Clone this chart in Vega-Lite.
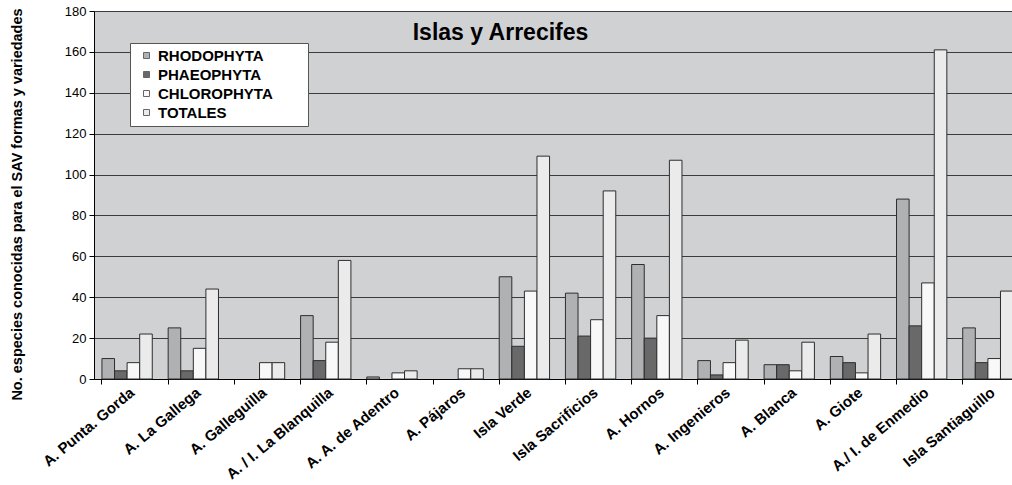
{
  "$schema": "https://vega.github.io/schema/vega-lite/v6.json",
  "width": 927,
  "height": 368,
  "autosize": "none",
  "padding": {"left": 94, "top": 11, "right": 0, "bottom": 106},
  "background": "white",
  "title": {"text": "Islas y Arrecifes", "font": "Liberation Sans", "fontSize": 23, "fontWeight": "bold", "color": "black", "anchor": "middle", "dx": -57, "dy": 44},
  "config": {"view": {"fill": "#D0D1D3", "stroke": "#8a8a8a"}, "font": "Liberation Sans"},
  "data": {"values": [
    {"site": "A. Punta. Gorda", "group": "RHODOPHYTA", "value": 10},
    {"site": "A. Punta. Gorda", "group": "PHAEOPHYTA", "value": 4},
    {"site": "A. Punta. Gorda", "group": "CHLOROPHYTA", "value": 8},
    {"site": "A. Punta. Gorda", "group": "TOTALES", "value": 22},
    {"site": "A. La Gallega", "group": "RHODOPHYTA", "value": 25},
    {"site": "A. La Gallega", "group": "PHAEOPHYTA", "value": 4},
    {"site": "A. La Gallega", "group": "CHLOROPHYTA", "value": 15},
    {"site": "A. La Gallega", "group": "TOTALES", "value": 44},
    {"site": "A. Galleguilla", "group": "CHLOROPHYTA", "value": 8},
    {"site": "A. Galleguilla", "group": "TOTALES", "value": 8},
    {"site": "A. / I. La Blanquilla", "group": "RHODOPHYTA", "value": 31},
    {"site": "A. / I. La Blanquilla", "group": "PHAEOPHYTA", "value": 9},
    {"site": "A. / I. La Blanquilla", "group": "CHLOROPHYTA", "value": 18},
    {"site": "A. / I. La Blanquilla", "group": "TOTALES", "value": 58},
    {"site": "A. A. de Adentro", "group": "RHODOPHYTA", "value": 1},
    {"site": "A. A. de Adentro", "group": "CHLOROPHYTA", "value": 3},
    {"site": "A. A. de Adentro", "group": "TOTALES", "value": 4},
    {"site": "A. Pájaros", "group": "CHLOROPHYTA", "value": 5},
    {"site": "A. Pájaros", "group": "TOTALES", "value": 5},
    {"site": "Isla Verde", "group": "RHODOPHYTA", "value": 50},
    {"site": "Isla Verde", "group": "PHAEOPHYTA", "value": 16},
    {"site": "Isla Verde", "group": "CHLOROPHYTA", "value": 43},
    {"site": "Isla Verde", "group": "TOTALES", "value": 109},
    {"site": "Isla Sacrificios", "group": "RHODOPHYTA", "value": 42},
    {"site": "Isla Sacrificios", "group": "PHAEOPHYTA", "value": 21},
    {"site": "Isla Sacrificios", "group": "CHLOROPHYTA", "value": 29},
    {"site": "Isla Sacrificios", "group": "TOTALES", "value": 92},
    {"site": "A. Hornos", "group": "RHODOPHYTA", "value": 56},
    {"site": "A. Hornos", "group": "PHAEOPHYTA", "value": 20},
    {"site": "A. Hornos", "group": "CHLOROPHYTA", "value": 31},
    {"site": "A. Hornos", "group": "TOTALES", "value": 107},
    {"site": "A. Ingenieros", "group": "RHODOPHYTA", "value": 9},
    {"site": "A. Ingenieros", "group": "PHAEOPHYTA", "value": 2},
    {"site": "A. Ingenieros", "group": "CHLOROPHYTA", "value": 8},
    {"site": "A. Ingenieros", "group": "TOTALES", "value": 19},
    {"site": "A. Blanca", "group": "RHODOPHYTA", "value": 7},
    {"site": "A. Blanca", "group": "PHAEOPHYTA", "value": 7},
    {"site": "A. Blanca", "group": "CHLOROPHYTA", "value": 4},
    {"site": "A. Blanca", "group": "TOTALES", "value": 18},
    {"site": "A. Giote", "group": "RHODOPHYTA", "value": 11},
    {"site": "A. Giote", "group": "PHAEOPHYTA", "value": 8},
    {"site": "A. Giote", "group": "CHLOROPHYTA", "value": 3},
    {"site": "A. Giote", "group": "TOTALES", "value": 22},
    {"site": "A./ I. de Enmedio", "group": "RHODOPHYTA", "value": 88},
    {"site": "A./ I. de Enmedio", "group": "PHAEOPHYTA", "value": 26},
    {"site": "A./ I. de Enmedio", "group": "CHLOROPHYTA", "value": 47},
    {"site": "A./ I. de Enmedio", "group": "TOTALES", "value": 161},
    {"site": "Isla Santiaguillo", "group": "RHODOPHYTA", "value": 25},
    {"site": "Isla Santiaguillo", "group": "PHAEOPHYTA", "value": 8},
    {"site": "Isla Santiaguillo", "group": "CHLOROPHYTA", "value": 10},
    {"site": "Isla Santiaguillo", "group": "TOTALES", "value": 43}
  ]},
  "mark": {"type": "bar", "stroke": "#2e2e2e", "strokeWidth": 1},
  "encoding": {
    "x": {
      "field": "site", "type": "nominal",
      "sort": ["A. Punta. Gorda", "A. La Gallega", "A. Galleguilla", "A. / I. La Blanquilla", "A. A. de Adentro", "A. Pájaros", "Isla Verde", "Isla Sacrificios", "A. Hornos", "A. Ingenieros", "A. Blanca", "A. Giote", "A./ I. de Enmedio", "Isla Santiaguillo"],
      "scale": {"paddingInner": 0.24, "paddingOuter": 0.12},
      "axis": {"title": null, "bandPosition": 0, "labelOffset": 5, "labelAngle": -40, "labelAlign": "right", "labelBaseline": "middle", "labelFont": "Liberation Sans", "labelFontSize": 15, "labelFontWeight": "bold", "labelColor": "black", "tickColor": "black", "tickSize": 5, "domainColor": "black", "labelPadding": 6, "grid": false, "labelLimit": 300, "labelOverlap": false}
    },
    "xOffset": {"field": "group", "type": "nominal", "sort": ["RHODOPHYTA", "PHAEOPHYTA", "CHLOROPHYTA", "TOTALES"], "scale": {"paddingInner": 0, "paddingOuter": 0}},
    "y": {
      "field": "value", "type": "quantitative",
      "scale": {"domain": [0, 180], "nice": false},
      "axis": {"title": "No. especies conocidas para el SAV formas y variedades", "titleFont": "Liberation Sans", "titleFontSize": 14.5, "titleFontWeight": "bold", "titleColor": "black", "titleX": -77, "titleY": 193, "titleAngle": -90, "titleAlign": "center", "titleBaseline": "middle", "values": [0, 20, 40, 60, 80, 100, 120, 140, 160, 180], "grid": true, "gridColor": "#3c3c3c", "gridWidth": 1, "domainColor": "black", "tickColor": "black", "tickSize": 5, "labelFont": "Liberation Sans", "labelFontSize": 13, "labelColor": "black", "labelPadding": 3}
    },
    "color": {
      "field": "group", "type": "nominal",
      "sort": ["RHODOPHYTA", "PHAEOPHYTA", "CHLOROPHYTA", "TOTALES"],
      "scale": {"domain": ["RHODOPHYTA", "PHAEOPHYTA", "CHLOROPHYTA", "TOTALES"], "range": ["#B0B1B3", "#696969", "#F8F8F8", "#EBEBEB"]},
      "legend": {"orient": "none", "legendX": 36, "legendY": 32, "title": null, "fillColor": "white", "strokeColor": "#555555", "padding": 5, "symbolOffset": 4, "symbolType": "square", "symbolSize": 36, "symbolStrokeColor": "#666666", "symbolStrokeWidth": 1, "labelFont": "Liberation Sans", "labelFontSize": 15, "labelFontWeight": "bold", "labelColor": "black", "rowPadding": 3, "labelOffset": 4, "labelExpr": "datum.label + '\u2003\u2003\u200b'"}
    }
  }
}
